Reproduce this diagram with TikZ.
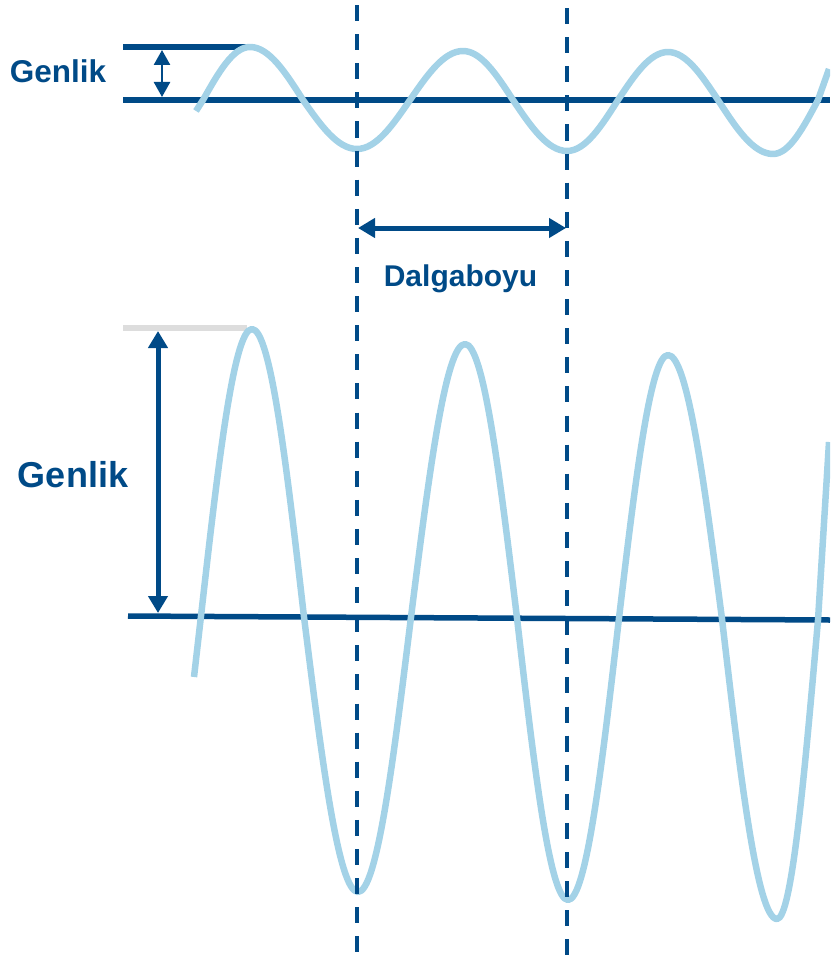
\documentclass[tikz,border=0pt]{standalone}
\usepackage{fontspec}
\setmainfont{Liberation Sans}
\usepackage{xcolor}
\usepackage{tikz}
\usetikzlibrary{arrows.meta}
\definecolor{navy}{RGB}{0,74,135}
\definecolor{sky}{RGB}{163,210,231}
\definecolor{lgray}{RGB}{221,221,221}
\tikzset{
  axisline/.style={line width=5.5pt, color=navy},
  wave/.style={line width=6.5pt, color=sky, line join=round},
  guide/.style={line width=3.2pt, color=navy, dash pattern=on 16pt off 13.1pt},
  amp/.style={{Triangle[length=17pt,width=19pt]}-{Triangle[length=17pt,width=19pt]}, line width=5pt, color=navy},
  ampsmall/.style={{Triangle[length=15pt,width=16pt]}-{Triangle[length=15pt,width=16pt]}, line width=2.5pt, color=navy},
  lbl/.style={font=\bfseries\fontsize{31.5}{36}\selectfont, text=navy, inner sep=0pt}
}

\begin{document}
\begin{tikzpicture}[x=1pt, y=-1pt]
\useasboundingbox (0,0) rectangle (830,955);
\clip (0,0) rectangle (830,955);
% small wave
\coordinate (topL) at (123,47);
\coordinate (topR) at (250,47);
\coordinate (baseL) at (123,100);
\coordinate (baseR) at (830,100);
\draw[axisline] (topL) -- (topR);
\draw[axisline] (baseL) -- (baseR);
\draw[wave] (196,111) -- (203,100) sin (250,47) cos (303,100) sin (357,149) cos (410,100)
  sin (463,51) cos (513,100) sin (567,151) cos (618,100) sin (668,52) cos (718,100)
  sin (773,154) cos (818,100) -- (829,69);
% large wave
\coordinate (peakL) at (123,328);
\coordinate (peakR) at (247,328);
\coordinate (zeroL) at (128,616);
\coordinate (zeroR) at (830,620);
\draw[line width=5.5pt, color=lgray] (peakL) -- (peakR);
\draw[axisline] (zeroL) -- (zeroR);
\draw[wave] (194,677) -- (201,616) sin (252,329) cos (304,617) sin (358,892) cos (411,617)
  sin (465,344) cos (517,618) sin (568,900) cos (619,618) sin (668,355) cos (722,619)
  sin (777,919) cos (818,620) -- (829,442);
% wavelength guides
\coordinate (g1top) at (357,0);
\coordinate (g1bot) at (357,955);
\coordinate (g2top) at (567,0);
\coordinate (g2bot) at (567,955);
\draw[guide, dash phase=24pt] (g1top) -- (g1bot);
\draw[guide, dash phase=21pt] (g2top) -- (g2bot);
% arrows
\coordinate (a1) at (162,50);
\coordinate (a2) at (162,97);
\draw[ampsmall] (a1) -- (a2);
\coordinate (w1) at (358,228);
\coordinate (w2) at (566,228);
\draw[amp] (w1) -- (w2);
\coordinate (b1) at (158,331);
\coordinate (b2) at (158,613);
\draw[amp] (b1) -- (b2);
% labels
\node[lbl, anchor=base] (genlikS) at (58,83) {Genlik};
\node[lbl, font=\bfseries\fontsize{30}{36}\selectfont, anchor=base] (dalga) at (460.5,286) {Dalgaboyu};
\node[lbl, font=\bfseries\fontsize{36}{42}\selectfont, anchor=base] (genlikL) at (73,487) {Genlik};
\end{tikzpicture}
\end{document}
